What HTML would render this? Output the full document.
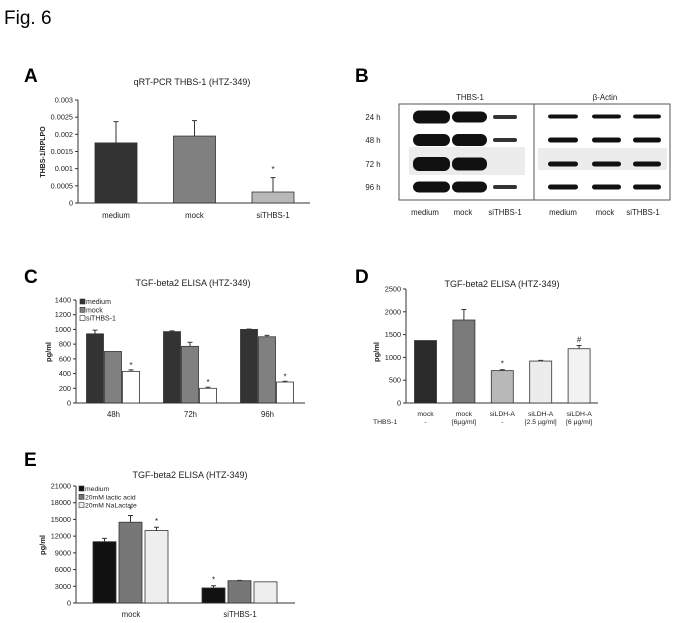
<!DOCTYPE html>
<html><head><meta charset="utf-8"><style>
body{margin:0;background:#fff;}
svg{display:block;font-family:"Liberation Sans",sans-serif;}
</style></head><body>
<svg id="fig" width="683" height="623" viewBox="0 0 683 623">
<text x="4" y="24" font-size="19">Fig. 6</text>
<text x="24" y="82" font-size="19" font-weight="bold">A</text>
<text x="355" y="82" font-size="19" font-weight="bold">B</text>
<text x="24" y="283" font-size="19" font-weight="bold">C</text>
<text x="355" y="283" font-size="19" font-weight="bold">D</text>
<text x="24" y="466" font-size="19" font-weight="bold">E</text>
<g id="blot"></g>
</svg>
<script>
// ---- Panel A data
const aCats=["medium","mock","siTHBS-1"];
const aVals=[0.00175,0.00195,0.00032];
const aErr=[0.00062,0.00045,0.00042];
const aTicks=["0","0.0005","0.001","0.0015","0.002","0.0025","0.003"];
// ---- Panel C data
const cCats=["48h","72h","96h"];
const cSeries=["medium","mock","siTHBS-1"];
const cMedium=[940,970,1000];
const cMock=[700,770,900];
const cSi=[430,200,285];
const cErrMedium=[50,10,5];
const cErrMock=[0,55,20];
const cErrSi=[20,15,10];
const cTicks=[0,200,400,600,800,1000,1200,1400];
// ---- Panel D data
const dCats=["mock","mock","siLDH-A","siLDH-A","siLDH-A"];
const dSub=["-","[6µg/ml]","-","[2.5 µg/ml]","[6 µg/ml]"];
const dVals=[1370,1820,710,920,1190];
const dErr=[0,230,20,15,70];
const dTicks=[0,500,1000,1500,2000,2500];
// ---- Panel E data
const eCats=["mock","siTHBS-1"];
const eSeries=["medium","20mM lactic acid","20mM NaLactate"];
const eMedium=[11000,2700];
const eLactic=[14500,4000];
const eNaLac=[13000,3800];
const eErrMedium=[600,400];
const eErrLactic=[1200,60];
const eErrNaLac=[600,0];
const eTicks=[0,3000,6000,9000,12000,15000,18000,21000];

const NS="http://www.w3.org/2000/svg";
const svg=document.getElementById('fig');
function mk(tag,attrs,parent,text){const e=document.createElementNS(NS,tag);for(const k in attrs)e.setAttribute(k,attrs[k]);if(text!==undefined)e.textContent=text;(parent||svg).appendChild(e);return e;}

function axes(g,x0,x1,yTop,yBot,ticks,max){
  const ax=mk('line',{x1:x0,y1:yTop,x2:x0,y2:yBot,stroke:'#333','stroke-width':1},g);
  
  
  const bx=mk('line',{x1:x0,y1:yBot,x2:x1,y2:yBot,stroke:'#333','stroke-width':1},g);
  
  
  ticks.forEach(t=>{const v=typeof t==='string'?parseFloat(t):t;const y=yBot-(v/max)*(yBot-yTop);
    mk('line',{x1:x0-3,y1:y,x2:x0,y2:y,stroke:'#333'},g);
    const tl=mk('text',{x:x0-5,y:y+2.5,'font-size':7.3,'text-anchor':'end',fill:'#222'},g,String(t));
    
    
  });
}
function bar(g,x,w,v,max,yTop,yBot,fill,err,name){
  const sy=v2=>yBot-(v2/max)*(yBot-yTop);
  const r=mk('rect',{x:x,y:sy(v),width:w,height:yBot-sy(v),fill:fill,stroke:'#333','stroke-width':0.8},g);
  
  
  if(err>0){const cx=x+w/2;mk('line',{x1:cx,y1:sy(v),x2:cx,y2:sy(v+err),stroke:'#333'},g);mk('line',{x1:cx-2.5,y1:sy(v+err),x2:cx+2.5,y2:sy(v+err),stroke:'#333'},g);}
  return sy;
}
function txt(g,x,y,s,t,extra){const e=mk('text',Object.assign({x:x,y:y,'font-size':s,'text-anchor':'middle',fill:'#222'},extra||{}),g,t);return e;}

// ---- Panel A
{const g=mk('g',{});
 const x0=78,x1=310,yT=100,yB=203,max=0.003;
 axes(g,x0,x1,yT,yB,aTicks,max);
 const t=txt(g,192,85,9,"qRT-PCR  THBS-1 (HTZ-349)");
 const yl=txt(g,0,0,7,"THBS-1/RPLPO",{transform:'translate(45,152) rotate(-90)','font-weight':'bold'});
 const cols=['#333','#808080','#b8b8b8'];
 aCats.forEach((c,i)=>{const cx=116+i*78.5;bar(g,cx-21,42,aVals[i],max,yT,yB,cols[i],aErr[i],'bar-'+c);
   const l=txt(g,cx,218,7.8,c);
   if(c==="siTHBS-1")txt(g,cx,172,8,"*");});
}
// ---- Panel C
{const g=mk('g',{});
 const x0=76,x1=305,yT=300,yB=403,max=1400;
 axes(g,x0,x1,yT,yB,cTicks,max);
 const t=txt(g,193,286,9,"TGF-beta2 ELISA (HTZ-349)");
 const yl=txt(g,0,0,7.5,"pg/ml",{transform:'translate(51,352) rotate(-90)','font-weight':'bold'});
 const cols=['#333','#808080','#fff'];const ser=[cMedium,cMock,cSi];const errs=[cErrMedium,cErrMock,cErrSi];
 cCats.forEach((c,i)=>{const gc=113.5+i*77;ser.forEach((s,j)=>{const x=gc-27+j*18;bar(g,x,17,s[i],max,yT,yB,cols[j],errs[j][i],'bar-'+cSeries[j]+'-'+c);
   if(j===2){const y=yB-((s[i]+errs[j][i])/max)*(yB-yT);txt(g,x+8.5,y-2,8,"*");}});
   const l=txt(g,gc,417,7.8,c);});
 cSeries.forEach((s,j)=>{const y=304+j*8.3;mk('rect',{x:80,y:y-5,width:5,height:5,fill:cols[j],stroke:'#333','stroke-width':0.6},g);
   const l=mk('text',{x:86,y:y,'font-size':7,fill:'#222'},g,s);});
}
// ---- Panel D
{const g=mk('g',{});
 const x0=406,x1=598,yT=289,yB=403,max=2500;
 axes(g,x0,x1,yT,yB,dTicks,max);
 const t=txt(g,502,287,9,"TGF-beta2 ELISA (HTZ-349)");
 const yl=txt(g,0,0,7.5,"pg/ml",{transform:'translate(379,352) rotate(-90)','font-weight':'bold'});
 const cols=['#2a2a2a','#7a7a7a','#b8b8b8','#ececec','#f2f2f2'];
 dCats.forEach((c,i)=>{const cx=425.5+i*38.4;bar(g,cx-11,22,dVals[i],max,yT,yB,cols[i],dErr[i],'bar-'+c+'-'+i);
   const l=txt(g,cx,416,6.8,c);
   txt(g,cx,424,6.8,dSub[i]);
   const ty=yB-((dVals[i]+dErr[i])/max)*(yB-yT)-3;
   if(i===2)txt(g,cx,ty,8,"*");if(i===4)txt(g,cx,ty,8,"#");});
 const th=mk('text',{x:373,y:424,'font-size':6.8,fill:'#222'},g,"THBS-1");
}
// ---- Panel E
{const g=mk('g',{});
 const x0=76,x1=295,yT=486,yB=603,max=21000;
 axes(g,x0,x1,yT,yB,eTicks,max);
 const t=txt(g,190,478,9,"TGF-beta2  ELISA (HTZ-349)");
 const yl=txt(g,0,0,7.5,"pg/ml",{transform:'translate(45,545) rotate(-90)','font-weight':'bold'});
 const cols=['#111','#777','#eee'];const ser=[eMedium,eLactic,eNaLac];const errs=[eErrMedium,eErrLactic,eErrNaLac];
 eCats.forEach((c,i)=>{const gc=131+i*109;ser.forEach((s,j)=>{const x=gc-38+j*26;bar(g,x,23,s[i],max,yT,yB,cols[j],errs[j][i],'bar-'+eSeries[j]+'-'+c);
   const y=yB-((s[i]+errs[j][i])/max)*(yB-yT);
   if((i===0&&j>0)||(i===1&&j===0))txt(g,x+11.5,y-3,8,"*");});
   const l=txt(g,gc,617,7.8,c);});
 eSeries.forEach((s,j)=>{const y=491+j*8.3;mk('rect',{x:79,y:y-5,width:5,height:5,fill:cols[j],stroke:'#333','stroke-width':0.6},g);
   const l=mk('text',{x:85,y:y,'font-size':6.8,fill:'#222'},g,s);});
}
// ---- Panel B (blot)
{const g=document.getElementById('blot');
 mk('rect',{x:409,y:147,width:116,height:28,fill:'#ececec'},g);
 mk('rect',{x:538,y:148,width:129,height:22,fill:'#ececec'},g);
 mk('rect',{x:399,y:104,width:271,height:96,fill:'none',stroke:'#555','stroke-width':1},g);
 mk('line',{x1:534,y1:104,x2:534,y2:200,stroke:'#555'},g);
 txt(g,470,100,7.8,"THBS-1");txt(g,605,100,7.8,"β-Actin");
 const rows=["24 h","48 h","72 h","96 h"],ry=[117,140,164,187];
 rows.forEach((r,i)=>{const t=mk('text',{x:373,y:ry[i]+3,'font-size':7.8,'text-anchor':'middle',fill:'#222'},g,r);});
 const thW=[13,12,14,11],mkW=[11,12,13,11];
 rows.forEach((r,i)=>{
   mk('rect',{x:413,y:ry[i]-thW[i]/2,width:37,height:thW[i],rx:6,fill:'#111'},g);
   mk('rect',{x:452,y:ry[i]-mkW[i]/2,width:35,height:mkW[i],rx:6,fill:'#111'},g);
   if(i!==2)mk('rect',{x:493,y:ry[i]-2,width:24,height:4,rx:2,fill:'#333'},g);
   [[548,30],[592,29],[633,28]].forEach(b=>mk('rect',{x:b[0],y:ry[i]-2.5,width:b[1],height:i===0?4:5,rx:2.5,fill:'#111'},g));
 });
 const bl=["medium","mock","siTHBS-1","medium","mock","siTHBS-1"],bx=[425,463,505,563,605,643];
 bl.forEach((b,i)=>{const t=txt(g,bx[i],215,7.8,b);});
}
</script>
</body></html>
